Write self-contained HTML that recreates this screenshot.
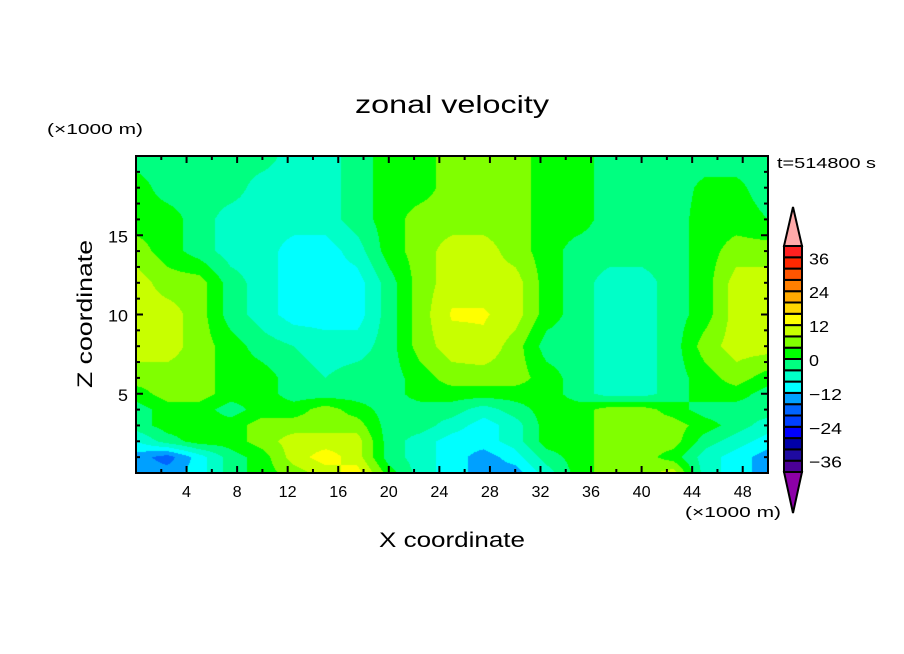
<!DOCTYPE html>
<html><head><meta charset="utf-8"><style>
html,body{margin:0;padding:0;background:#fff;width:904px;height:654px;overflow:hidden}
#wrap{position:relative;width:904px;height:654px}
canvas{position:absolute;left:136px;top:156px}
svg{position:absolute;left:0;top:0}
text{font-family:"Liberation Sans",sans-serif;fill:#000}
</style></head><body>
<div id="wrap">
<canvas id="field" width="632" height="317"></canvas>
<svg id="svg" width="904" height="654"></svg>
</div>
<script>
// ---- data ----
const xNodes = [0,2.5,5,7.5,10,12.5,15,17.5,20,22.5,25,27.5,30,32.5,35,37.5,40,42.5,45,47.5,50];
const zNodes = [0,1,2,3,4,5,6,8,10,12,14,16,18,20];
const u_z0  = [-14,-14,-10,-2,2,6,10,14,2,-6,-10,-14,-14,-6,2,6,6,10,-6,-10,-14];
const u_z1  = [-14,-18,-10,-2,2,10,14,10,-2,-6,-10,-14,-10,-2,2,6,6,2,-6,-10,-14];
const u_z2  = [-8,-2,2,2,6,10,10,10,-2,-6,-10,-10,-6,2,2,6,6,6,-2,-6,-10];
const u_z3  = [-2,2,2,2,6,6,6,6,-2,-2,-6,-10,-6,2,2,6,6,6,2,-2,-6];
const u_z4  = [-2,2,2,-2,2,2,6,2,-2,-2,-2,-6,-2,2,2,6,6,2,-2,-2,-2];
const u_z5  = [2,6,6,2,2,-2,-2,-2,-2,2,2,2,2,2,-2,-6,-6,-2,2,2,-2];
const u_z6  = [6,6,6,2,2,-2,-4,-2,-2,2,6,6,6,2,-2,-6,-6,-2,2,6,2];
const u_z8  = [10,10,6,2,-2,-4,-6,-6,-2,6,10,11,6,-2,-2,-6,-6,-2,6,10,10];
const u_z10 = [10,10,6,-2,-6,-10,-10,-10,-2,6,12.5,12.5,10,2,-2,-6,-6,-2,2,10,10];
const u_z12 = [10,6,6,-2,-6,-10,-10,-10,-2,6,10,10,10,2,-2,-6,-6,-2,2,10,10];
const u_z14 = [6,2,-2,-6,-6,-10,-10,-6,2,6,10,10,6,2,-2,-2,-2,-2,2,6,6];
const u_z16 = [2,2,-2,-6,-6,-6,-6,-2,2,6,6,6,6,2,2,-2,-2,-2,2,2,0];
const u_z18 = [2,-2,-2,-2,-6,-6,-6,-2,2,2,6,6,6,2,2,-2,-2,-2,1,1,-2];
const u_z20 = [-2,-2,-2,-2,-2,-6,-6,-2,2,2,6,6,6,2,2,-2,-2,-2,-2,-2,-2];
const rows = [u_z0,u_z1,u_z2,u_z3,u_z4,u_z5,u_z6,u_z8,u_z10,u_z12,u_z14,u_z16,u_z18,u_z20];
const levels = [-40,-36,-32,-28,-24,-20,-16,-12,-8,-4,0,4,8,12,16,20,24,28,32,36,40];
const colors = ["#8c00a8","#4b0096","#1e0aa0","#0000a8","#0000ff","#0040ff","#0064ff","#00a0ff","#00ffff","#00ffc8","#00ff80","#00ff00","#80ff00","#c8ff00","#ffff00","#ffd700","#ffaa00","#ff7f00","#ff5500","#ff2800","#ff2020","#ffaaaa"];
const xTicks = [4,8,12,16,20,24,28,32,36,40,44,48];
const zTicks = [5,10,15];
const cbLabels = [36,24,12,0,-12,-24,-36];

// ---- axes ----
const X0=136,X1=768,Y0=473,Y1=156;
const sx = x => X0 + (x/50)*(X1-X0);
const sz = z => Y0 - (z/20)*(Y0-Y1);

function interp(x,z){
  let i=0; while(i<xNodes.length-2 && x>xNodes[i+1]) i++;
  let j=0; while(j<zNodes.length-2 && z>zNodes[j+1]) j++;
  const tx=(x-xNodes[i])/(xNodes[i+1]-xNodes[i]);
  const tz=(z-zNodes[j])/(zNodes[j+1]-zNodes[j]);
  const a=rows[j][i],b=rows[j][i+1],c=rows[j+1][i],d=rows[j+1][i+1];
  return (a*(1-tx)+b*tx)*(1-tz)+(c*(1-tx)+d*tx)*tz;
}
function colorIdx(v){let k=0;while(k<levels.length && v>=levels[k])k++;return k;}
function hex(h){return [parseInt(h.substr(1,2),16),parseInt(h.substr(3,2),16),parseInt(h.substr(5,2),16)];}
const rgb = colors.map(hex);

const cv=document.getElementById('field'),ctx=cv.getContext('2d');
const W=cv.width,H=cv.height,img=ctx.createImageData(W,H);
for(let py=0;py<H;py++){
  const z=(Y0-(Y1+py+0.5))/(Y0-Y1)*20;
  for(let px=0;px<W;px++){
    const x=(px+0.5)/(X1-X0)*50;
    const c=rgb[colorIdx(interp(x,z))];
    const o=(py*W+px)*4;
    img.data[o]=c[0];img.data[o+1]=c[1];img.data[o+2]=c[2];img.data[o+3]=255;
  }
}
ctx.putImageData(img,0,0);

const NS="http://www.w3.org/2000/svg",svg=document.getElementById('svg');
function el(t,a,txt){const e=document.createElementNS(NS,t);for(const k in a)e.setAttribute(k,a[k]);if(txt!==undefined)e.textContent=txt;svg.appendChild(e);return e;}

// ticks
for(let x=2;x<50;x+=2){
  const L=(x%4===0)?7:4;
  let t=el('line',{x1:sx(x),x2:sx(x),y1:Y0,y2:Y0-L,stroke:'#000','stroke-width':2});
  
  
  t=el('line',{x1:sx(x),x2:sx(x),y1:Y1,y2:Y1+L,stroke:'#000','stroke-width':2});
  
  
}
for(let z=1;z<20;z++){
  const L=(z%5===0)?7:4;
  let t=el('line',{x1:X0,x2:X0+L,y1:sz(z),y2:sz(z),stroke:'#000','stroke-width':2});
  
  
  t=el('line',{x1:X1,x2:X1-L,y1:sz(z),y2:sz(z),stroke:'#000','stroke-width':2});
  
  
}
let frame=el('rect',{x:X0,y:Y1,width:X1-X0,height:Y0-Y1,fill:'none',stroke:'#000','stroke-width':2});


xTicks.forEach(v=>{
  const s=String(v);
  const t=el('text',{x:sx(v),y:497,'font-size':16,'text-anchor':'middle',textLength:s.length*9,lengthAdjust:'spacingAndGlyphs'},s);
  
  
});
zTicks.forEach(v=>{
  const s=String(v);
  const t=el('text',{x:128,y:sz(v)+7,'font-size':17,'text-anchor':'end',textLength:s.length*10,lengthAdjust:'spacingAndGlyphs'},s);
  
  
});

// colorbar
const CBX=784,CBW=18,CBTOP=246,STEP=11.3;
const nBox=levels.length-1;
for(let k=0;k<nBox;k++){
  const y=CBTOP+(nBox-1-k)*STEP;
  const r=el('rect',{x:CBX,y:y,width:CBW,height:STEP,fill:colors[k+1],stroke:'#000','stroke-width':2});
  
  
}
const cbBot=CBTOP+nBox*STEP;
let tri=el('polygon',{points:`${CBX},${CBTOP} ${CBX+CBW},${CBTOP} ${CBX+CBW/2},207`,fill:colors[colors.length-1],stroke:'#000','stroke-width':2});


tri=el('polygon',{points:`${CBX},${cbBot} ${CBX+CBW},${cbBot} ${CBX+CBW/2},513`,fill:colors[0],stroke:'#000','stroke-width':2});


cbLabels.forEach(v=>{
  const y=CBTOP+(40-v)/4*STEP;
  const s=(v<0?'\u2212':'')+Math.abs(v);
  const t=el('text',{x:809,y:y+7,'font-size':16,textLength:(v<0?33:String(v).length*10),lengthAdjust:'spacingAndGlyphs'},s);
  
  
});
</script>
<svg width="904" height="654" style="position:absolute;left:0;top:0;pointer-events:none">
<text x="355" y="113" font-size="25" textLength="194" lengthAdjust="spacingAndGlyphs">zonal velocity</text>
<text x="47" y="134" font-size="15" textLength="96" lengthAdjust="spacingAndGlyphs">(×1000 m)</text>
<text x="685" y="517" font-size="15" textLength="96" lengthAdjust="spacingAndGlyphs">(×1000 m)</text>
<text x="777" y="168" font-size="15" textLength="99" lengthAdjust="spacingAndGlyphs">t=514800 s</text>
<text x="379" y="547" font-size="21" textLength="146" lengthAdjust="spacingAndGlyphs">X coordinate</text>
<text x="0" y="0" font-size="21" text-anchor="middle" textLength="148" lengthAdjust="spacingAndGlyphs" transform="translate(92,314) rotate(-90)">Z coordinate</text>
</svg>
</body></html>
